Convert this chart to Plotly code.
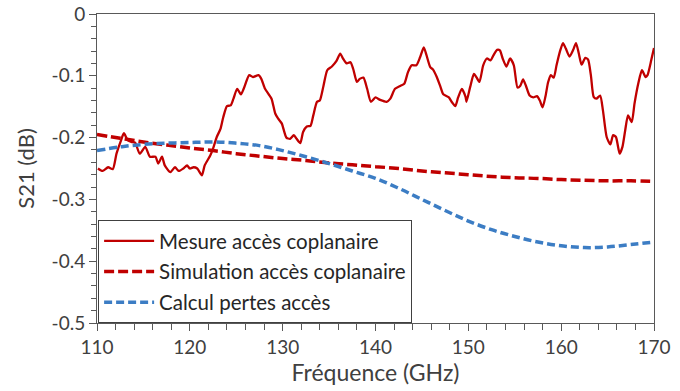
import plotly.graph_objects as go

# Measured S21 (solid red)
meas_f = [110.1, 110.6, 111.2, 111.7, 112.1, 112.6, 112.9, 113.3, 113.7, 114.1, 114.6, 115.2, 115.7, 116.3,
          116.6, 117.0, 117.3, 117.9, 118.4, 118.8, 119.3, 119.7, 120.0, 120.4, 120.8, 121.3, 121.6, 122.2,
          122.5, 122.9, 123.3, 123.6, 124.0, 124.4, 124.7, 125.1, 125.5, 125.8, 126.4, 126.8, 127.4, 127.7,
          128.1, 128.5, 128.8, 129.2, 129.5, 129.9, 130.4, 130.8, 131.2, 131.5, 131.9, 132.2, 132.6, 133.0,
          133.3, 133.7, 134.0, 134.4, 134.8, 135.3, 135.8, 136.2, 136.5, 136.9, 137.3, 137.6, 138.0, 138.3,
          138.7, 139.1, 139.5, 140.0, 140.5, 141.2, 141.6, 142.1, 142.7, 143.1, 143.5, 143.9, 144.4, 144.8,
          145.2, 145.5, 145.9, 146.2, 146.6, 147.0, 147.3, 147.9, 148.2, 148.6, 148.9, 149.3, 149.7, 149.8,
          150.2, 150.6, 150.9, 151.2, 151.6, 152.0, 152.4, 152.7, 153.1, 153.4, 153.7, 154.1, 154.5, 154.9,
          155.3, 155.6, 155.9, 156.2, 156.6, 157.0, 157.4, 157.7, 158.0, 158.3, 158.6, 158.9, 159.2, 159.5,
          159.9, 160.2, 160.5, 160.9, 161.3, 161.6, 161.9, 162.2, 162.6, 162.9, 163.2, 163.5, 163.8, 164.2,
          164.5, 164.9, 165.3, 165.6, 165.9, 166.3, 166.6, 166.9, 167.2, 167.6, 167.9, 168.3, 168.7, 169.1,
          169.3, 169.7, 170.0]
meas_v = [-0.250, -0.254, -0.248, -0.251, -0.226, -0.204, -0.193, -0.204, -0.207, -0.208, -0.226, -0.215, -0.231, -0.231,
          -0.242, -0.231, -0.245, -0.256, -0.248, -0.254, -0.250, -0.245, -0.250, -0.248, -0.250, -0.261, -0.245, -0.229,
          -0.218, -0.199, -0.186, -0.167, -0.149, -0.148, -0.137, -0.121, -0.130, -0.121, -0.099, -0.102, -0.099, -0.105,
          -0.121, -0.130, -0.137, -0.161, -0.169, -0.177, -0.200, -0.202, -0.196, -0.202, -0.209, -0.191, -0.182, -0.181,
          -0.164, -0.142, -0.140, -0.116, -0.091, -0.085, -0.076, -0.064, -0.072, -0.080, -0.078, -0.089, -0.110, -0.105,
          -0.103, -0.121, -0.142, -0.135, -0.139, -0.142, -0.137, -0.121, -0.116, -0.113, -0.094, -0.083, -0.083, -0.070,
          -0.054, -0.067, -0.086, -0.090, -0.102, -0.118, -0.130, -0.135, -0.142, -0.149, -0.135, -0.121, -0.134, -0.142,
          -0.118, -0.097, -0.103, -0.110, -0.083, -0.072, -0.075, -0.067, -0.058, -0.059, -0.072, -0.085, -0.072, -0.083,
          -0.119, -0.116, -0.106, -0.116, -0.132, -0.135, -0.133, -0.140, -0.151, -0.134, -0.110, -0.099, -0.103, -0.083,
          -0.059, -0.047, -0.056, -0.069, -0.058, -0.047, -0.064, -0.082, -0.071, -0.074, -0.099, -0.134, -0.137, -0.132,
          -0.156, -0.199, -0.211, -0.196, -0.199, -0.226, -0.215, -0.188, -0.164, -0.175, -0.145, -0.113, -0.091, -0.102,
          -0.099, -0.075, -0.055]

# Simulation and calculation (dashed)
model_f = [110, 112.5, 115, 117.5, 120, 122.5, 125, 127.5, 130, 132.5, 135, 137.5, 140, 142.5, 145, 147.5,
           150, 152.5, 155, 157.5, 160, 162.5, 165, 167.5, 170]
sim_v = [-0.195, -0.201, -0.207, -0.212, -0.217, -0.221, -0.226, -0.230, -0.234, -0.237, -0.241, -0.244, -0.247,
         -0.250, -0.254, -0.257, -0.260, -0.263, -0.265, -0.266, -0.268, -0.269, -0.270, -0.270, -0.271]
calc_v = [-0.221, -0.215, -0.211, -0.209, -0.208, -0.207, -0.209, -0.213, -0.221, -0.231, -0.242, -0.254, -0.266,
          -0.282, -0.300, -0.318, -0.335, -0.349, -0.360, -0.369, -0.375, -0.378, -0.377, -0.373, -0.369]

names = ["Mesure accès coplanaire", "Simulation accès coplanaire", "Calcul pertes accès"]
x_ticks = [110, 120, 130, 140, 150, 160, 170]
y_ticks = [0, -0.1, -0.2, -0.3, -0.4, -0.5]
y_ticktext = ["0", "-0.1", "-0.2", "-0.3", "-0.4", "-0.5"]

RED = "#C00000"
BLUE = "#3C7DC4"
AX = "#595959"
FONT = "Lato"

fig = go.Figure()
fig.add_trace(go.Scatter(x=meas_f, y=meas_v, mode="lines", name=names[0], legendgroup="a",
                         line=dict(color=RED, width=2.3, shape="spline", smoothing=0.6)))
fig.add_trace(go.Scatter(x=model_f, y=sim_v, mode="lines", name=names[1], legendgroup="b",
                         line=dict(color=RED, width=3.5, dash="10px,4px", shape="spline")))
fig.add_trace(go.Scatter(x=model_f, y=calc_v, mode="lines", name=names[2], legendgroup="c",
                         line=dict(color=BLUE, width=3.5, dash="8px,4px", shape="spline")))

fig.update_layout(
    width=680, height=391,
    margin=dict(l=97, r=26, t=13.5, b=68),
    paper_bgcolor="white", plot_bgcolor="white",
    font=dict(family=FONT, size=19, color="#404040"),
    showlegend=True,
    legend=dict(x=0.002, y=0, xanchor="left", yanchor="bottom",
                bgcolor="white", bordercolor="#404040", borderwidth=1,
                font=dict(family=FONT, size=20.5, color="#262626"),
                itemwidth=50, traceorder="grouped", tracegroupgap=1),
    xaxis=dict(range=[110, 170], tickvals=x_ticks, ticks="outside", ticklen=7, tickcolor=AX,
               showline=True, linecolor=AX, linewidth=1, mirror=True, showgrid=False, zeroline=False,
               automargin=False,
               minor=dict(dtick=2, ticks="outside", ticklen=6, tickcolor=AX),
               title=dict(text="Fréquence (GHz)", font=dict(size=23, color="#404040"), standoff=2),
               tickfont=dict(size=19, color="#404040")),
    yaxis=dict(range=[-0.5, 0], tickvals=y_ticks, ticktext=y_ticktext, ticks="outside", ticklen=7,
               tickcolor=AX, showline=True, linecolor=AX, linewidth=1,
               mirror=True, showgrid=False, zeroline=False, automargin=False,
               minor=dict(dtick=0.02, ticks="outside", ticklen=5, tickcolor=AX),
               title=dict(text="S21 (dB)", font=dict(size=22, color="#404040"), standoff=10),
               tickfont=dict(size=19, color="#404040")),
)

fig.write_html("out.html", config={"displayModeBar": False},
               post_script="document.body.style.margin='0';")
